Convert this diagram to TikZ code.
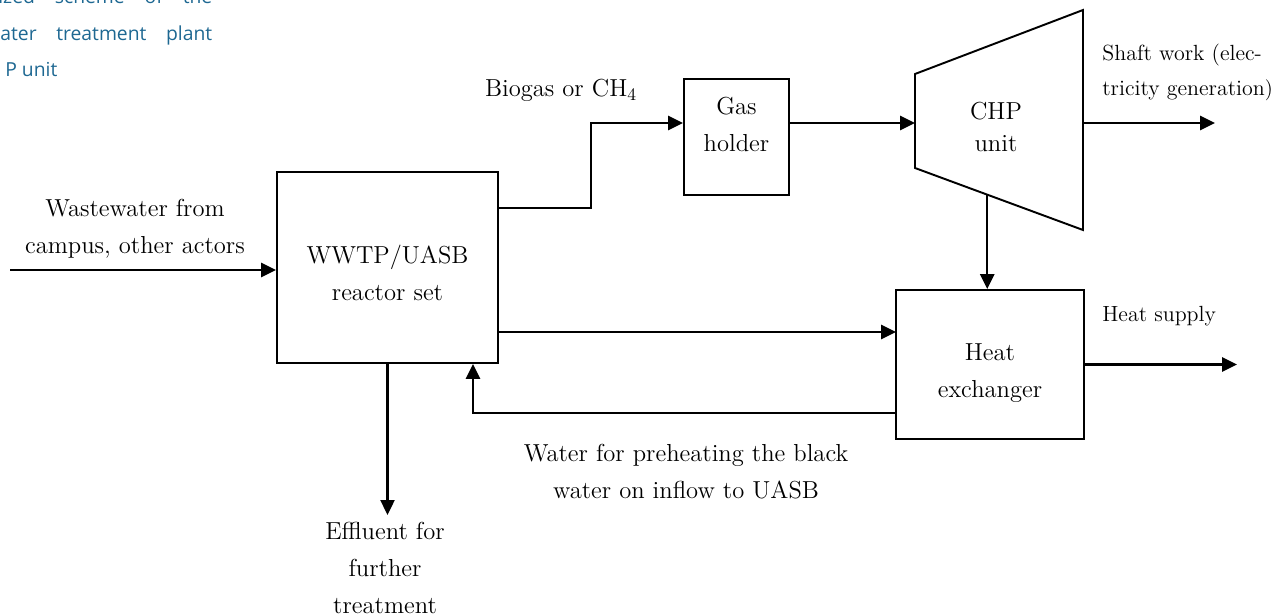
\documentclass[tikz,border=0pt]{standalone}
\usepackage{fontspec}
\newfontfamily\capfont{Open Sans}
\usetikzlibrary{arrows.meta,positioning,calc}
\definecolor{capteal}{RGB}{30,104,146}
\newcommand\mainsz{\fontsize{14}{21}\selectfont}
\newcommand\smallsz{\fontsize{12.5}{20}\selectfont}

\begin{document}
\begin{tikzpicture}[x=0.02cm, y=-0.02cm,
  blk/.style={rectangle, draw, line width=1.1pt, align=center,
              font=\mainsz, inner sep=0pt},
  lbl/.style={align=center, font=\mainsz, inner sep=0pt},
  slbl/.style={align=left, font=\smallsz, inner sep=0pt},
  captxt/.style={font=\capfont\fontsize{11}{13}\selectfont, text=capteal,
                 inner sep=0pt, anchor=base west},
  flow/.style={-{Triangle[length=8.5pt,width=8pt]}, line width=1.3pt}
]
\useasboundingbox (0,0) rectangle (1287,614);

% Caption remnant (cut by the page edge)
\node[captxt] (cap1) at (-2,4)  {\makebox[4.28cm][s]{ized scheme of the}};
\node[captxt] (cap2) at (0,41)  {\makebox[4.24cm][s]{ater treatment plant}};
\node[captxt] (cap3) at (5,77)  {P unit};

% Blocks
\node[blk, minimum width=4.42cm, minimum height=3.82cm] (wwtp) at (387.5,267.5)
  {\rule{0pt}{17pt}WWTP/UASB\\reactor set};
\node[blk, minimum width=2.1cm, minimum height=2.32cm] (gas) at (736.5,137)
  {Gas\\holder\rule[-14.8pt]{0pt}{0pt}};
\node[blk, minimum width=3.76cm, minimum height=2.98cm] (hx) at (990,364.5)
  {\rule{0pt}{19pt}Heat\\exchanger};

% CHP unit (trapezoid)
\draw[line width=1.1pt] (915,74) coordinate (chptl) -- (1083,10) coordinate (chptr)
  -- (1083,230) coordinate (chpbr) -- (915,168) coordinate (chpbl) -- cycle;
\node[lbl, font=\fontsize{14}{18}\selectfont] (chp) at (996,127) {CHP\\unit};
\coordinate (chpin)  at (915,123);
\coordinate (chpout) at (1083,123);
\coordinate (chpdown) at ($(chpbl)!0.43!(chpbr)$);

% Labels
\node[lbl] (wwlbl) at (135,229) {Wastewater from\\campus, other actors};
\node[lbl, anchor=base] (bglbl) at (561,97) {Biogas or CH$_4$};
\node[slbl, anchor=west] (shaftlbl) at (1102,72)
  {Shaft work (elec-\\tricity generation{\large)}};
\node[slbl, anchor=base west] (heatlbl) at (1102,322) {Heat supply};
\node[lbl] (waterlbl) at (686,472) {Water for preheating the black\\water on inflow to UASB};
\node[lbl, inner ysep=4pt] (efflbl) at (385,568) {Effluent for\\further\\treatment};

% Helper points
\coordinate (wwin)    at (10,270);
\coordinate (bgturn)  at (591,208);
\coordinate (hxfeed)  at (896,332);
\coordinate (retturn) at (473,413);
\coordinate (shaftend) at (1215,123);
\coordinate (heatend) at (1237,363);

% Flows
\draw[flow] (wwin) -- (wwin -| wwtp.west);
\draw[flow] (bgturn -| wwtp.east) -- (bgturn) |- (chpin -| gas.west);
\draw[flow] (chpin -| gas.east) -- (chpin);
\draw[flow] (chpout) -- (shaftend);
\draw[flow] (chpdown) -- (chpdown |- hx.north);
\draw[flow] (hxfeed -| wwtp.east) -- (hxfeed);
\draw[flow] (hx.east) -- (hx.east -| heatend);
\draw[flow] (retturn -| hx.west) -- (retturn) -- (retturn |- wwtp.south);
\draw[flow] (wwtp.south) -- (wwtp.south |- efflbl.north);
\end{tikzpicture}
\end{document}
